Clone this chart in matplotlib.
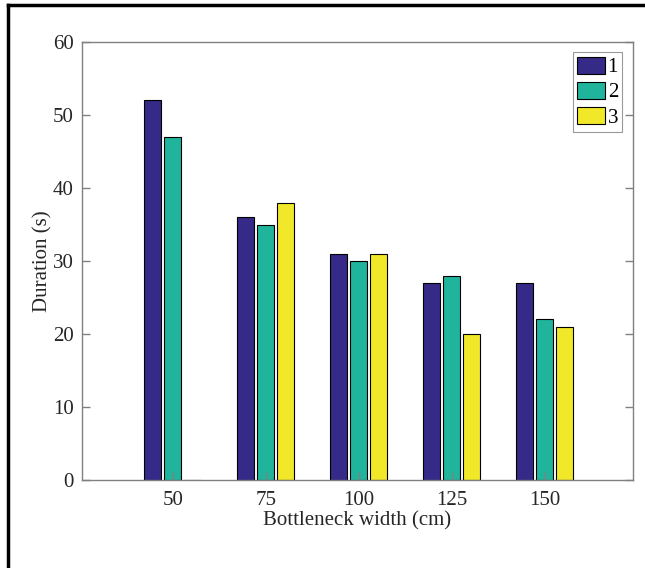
import numpy as np
import matplotlib
matplotlib.use('Agg')
import matplotlib.pyplot as plt
from matplotlib.lines import Line2D

widths = ['50', '75', '100', '125', '150']
series1 = [52, 36, 31, 27, 27]
series2 = [47, 35, 30, 28, 22]
series3 = [0, 38, 31, 20, 21]
labels = ['1', '2', '3']

plt.rcParams['font.family'] = ['Liberation Serif', 'DejaVu Serif']

fig = plt.figure(figsize=(6.45, 5.68), dpi=100)
ax = fig.add_axes([0.127, 0.155, 0.854, 0.771])

x = np.arange(len(widths))
w = 0.183
off = 0.215
cols = ['#352A87', '#21B49C', '#F2E82A']
for i, (vals, c) in enumerate(zip([series1, series2, series3], cols)):
    ax.bar(x + (i - 1) * off, vals, w, color=c, edgecolor='black',
           linewidth=0.8, label=labels[i])

ax.set_xlim(-0.98, 4.95)
ax.set_ylim(0, 60)
ax.set_xticks(x)
ax.set_xticklabels(widths)
ax.set_yticks(range(0, 61, 10))
gray = '#262626'
for s in ax.spines.values():
    s.set_color('#808080')
    s.set_linewidth(1.0)
ax.tick_params(direction='in', length=6, colors='#808080', labelcolor=gray,
               labelsize=15, top=False, right=True, width=1.0)
ax.tick_params(axis='x', pad=8)
ax.tick_params(axis='y', pad=6)
ax.set_xlabel('Bottleneck width (cm)', fontsize=15, color=gray, labelpad=1)
ax.set_ylabel('Duration (s)', fontsize=15, color=gray, labelpad=0)

leg = ax.legend(loc='upper right', fontsize=15, frameon=True, fancybox=False,
                edgecolor='#808080', handlelength=1.3, handleheight=0.87,
                borderpad=0.2, labelspacing=0.22, handletextpad=0.15,
                borderaxespad=0.5)
leg.get_frame().set_linewidth(0.8)

# outer frame (left and top only)
fig.add_artist(Line2D([8 / 645, 8 / 645], [0, 1 - 5 / 568], color='black',
                      linewidth=2.5, transform=fig.transFigure))
fig.add_artist(Line2D([8 / 645, 1], [1 - 5 / 568, 1 - 5 / 568], color='black',
                      linewidth=2.5, transform=fig.transFigure))

fig.savefig('out.png', dpi=100)
